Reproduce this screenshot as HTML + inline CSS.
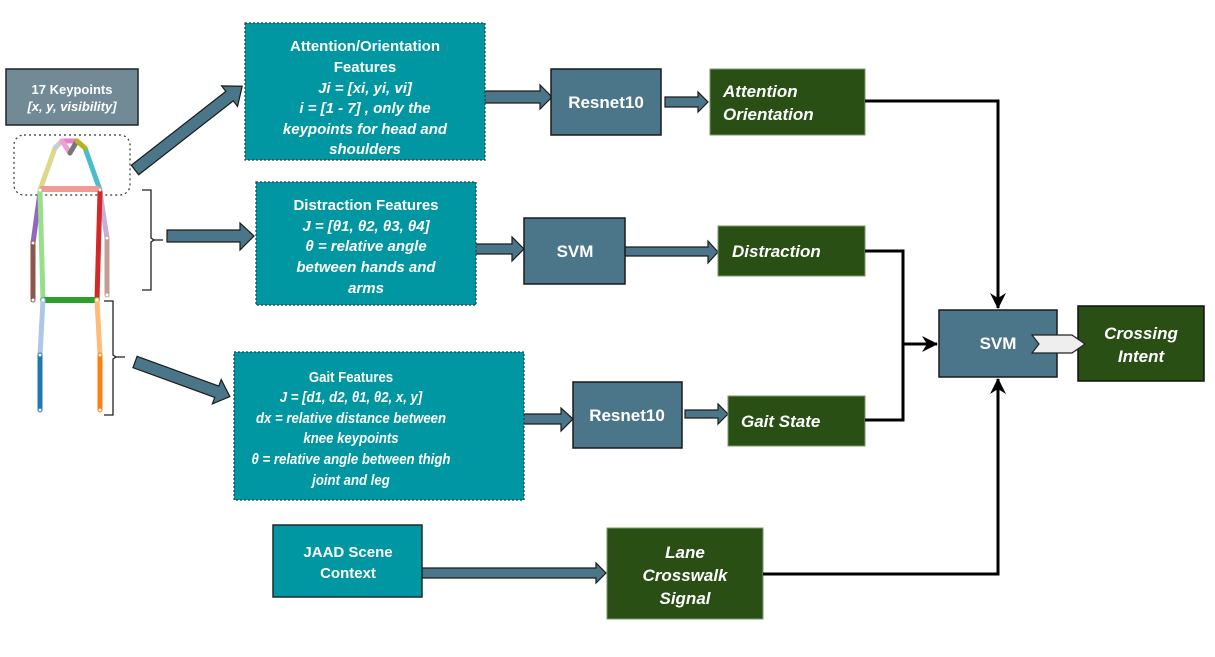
<!DOCTYPE html>
<html><head><meta charset="utf-8"><style>
html,body{margin:0;padding:0;background:#fff;}
svg{display:block;font-family:"Liberation Sans",Arial,sans-serif;}
.w{fill:#fff;font-weight:bold;}
</style></head><body>
<svg width="1215" height="657" viewBox="0 0 1215 657" xmlns="http://www.w3.org/2000/svg">
<defs>
<marker id="ah" markerWidth="18" markerHeight="18" refX="15" refY="8" orient="auto" markerUnits="userSpaceOnUse">
<path d="M0,0 L16,8 L0,16 L5,8 Z" fill="#000"/></marker>
</defs>

<!-- keypoints box -->
<rect x="6" y="69" width="132" height="56" fill="#718a96" stroke="#222" stroke-width="1.5"/>
<text x="72" y="94" class="w" font-size="13" text-anchor="middle">17 Keypoints</text>
<text x="72" y="111" class="w" font-size="13" font-style="italic" text-anchor="middle">[x, y, visibility]</text>
<rect x="14" y="135" width="116" height="60" rx="10" fill="none" stroke="#333" stroke-width="1.2" stroke-dasharray="2,3"/>

<!-- skeleton -->
<g stroke-linecap="round" stroke-width="5" fill="none">
<line x1="40" y1="190" x2="55" y2="148" stroke="#dada8a"/>
<line x1="100" y1="190" x2="85" y2="148" stroke="#4bbccc"/>
<line x1="55" y1="148" x2="62" y2="141" stroke="#ccc"/>
<line x1="62" y1="141" x2="77" y2="141" stroke="#e87fc8"/>
<line x1="62" y1="141" x2="70" y2="153" stroke="#f0a0d0"/>
<line x1="77" y1="141" x2="70" y2="153" stroke="#777"/>
<line x1="77" y1="141" x2="85" y2="148" stroke="#b5b520"/>
<line x1="42" y1="189" x2="98" y2="189" stroke="#f29a94" stroke-width="6"/>
<line x1="40" y1="192" x2="33" y2="243" stroke="#9467bd"/>
<line x1="33" y1="243" x2="33" y2="300" stroke="#8c564b"/>
<line x1="100" y1="192" x2="107" y2="238" stroke="#c5b0d5"/>
<line x1="107" y1="238" x2="107" y2="295" stroke="#c49c94"/>
<line x1="40" y1="192" x2="43" y2="300" stroke="#98df8a"/>
<line x1="100" y1="192" x2="97" y2="300" stroke="#d62728"/>
<line x1="43" y1="300" x2="97" y2="300" stroke="#2ca02c" stroke-width="6"/>
<line x1="43" y1="300" x2="40" y2="355" stroke="#aec7e8"/>
<line x1="40" y1="355" x2="40" y2="410" stroke="#1f77b4"/>
<line x1="97" y1="300" x2="100" y2="355" stroke="#ffbb78"/>
<line x1="100" y1="355" x2="100" y2="410" stroke="#ff7f0e"/>
</g>
<g fill="#fff">
<circle cx="40" cy="190" r="1.5"/><circle cx="100" cy="190" r="1.5"/><circle cx="33" cy="243" r="1.5"/><circle cx="107" cy="238" r="1.5"/>
<circle cx="33" cy="300" r="1.5"/><circle cx="107" cy="295" r="1.5"/><circle cx="43" cy="300" r="1.5"/><circle cx="97" cy="300" r="1.5"/>
<circle cx="40" cy="355" r="1.5"/><circle cx="100" cy="355" r="1.5"/><circle cx="40" cy="410" r="1.5"/><circle cx="100" cy="410" r="1.5"/>
</g>

<!-- brackets -->
<path d="M142,190 h9 v48 l3,2 l-3,2 v48 h-9" fill="none" stroke="#222" stroke-width="1.3"/>
<line x1="154" y1="240" x2="163" y2="240" stroke="#222" stroke-width="1.3"/>
<path d="M104,301 h9 v54 l3,2 l-3,2 v56 h-9" fill="none" stroke="#222" stroke-width="1.3"/>
<line x1="116" y1="357" x2="125" y2="357" stroke="#222" stroke-width="1.3"/>

<!-- fat arrows -->
<g fill="#4b7588" stroke="#1c1c1c" stroke-width="1.2">
<polygon points="0,-6 120,-6 120,-13 136,0 120,13 120,6 0,6" transform="translate(135,170) rotate(-38)"/>
<polygon points="167,230 240,230 240,223 254,236 240,250 240,242 167,242"/>
<polygon points="0,-6 87,-6 87,-13 101,0 87,13 87,6 0,6" transform="translate(135,362) rotate(20)"/>
<polygon points="482,91 540,91 540,85 552,97 540,109 540,103 482,103"/>
<polygon points="665,97 698,97 698,92 708,102 698,112 698,107 665,107"/>
<polygon points="471,244 512,244 512,237 524,249 512,261 512,254 471,254"/>
<polygon points="625,247 708,247 708,241 718,252 708,263 708,256 625,256"/>
<polygon points="462,414 561,414 561,408 573,419 561,431 561,424 462,424"/>
<polygon points="685,410 718,410 718,404 728,414 718,424 718,418 685,418"/>
<polygon points="422,568 596,568 596,563 606,573 596,583 596,578 422,578"/>
</g>

<!-- teal feature boxes -->
<g fill="#0097a3" stroke="#1e3f46" stroke-width="1.2" stroke-dasharray="2,2">
<rect x="245" y="23" width="240" height="137"/>
<rect x="256" y="182" width="220" height="123"/>
<rect x="234" y="352" width="290" height="148"/>
</g>
<g class="w" font-size="15" text-anchor="middle">
<text x="365" y="51">Attention/Orientation</text>
<text x="365" y="72">Features</text>
<text x="365" y="93" font-style="italic">Ji = [xi, yi, vi]</text>
<text x="365" y="113" font-style="italic">i = [1 - 7] , only the</text>
<text x="365" y="134" font-style="italic">keypoints for head and</text>
<text x="365" y="154" font-style="italic">shoulders</text>
<text x="366" y="210">Distraction Features</text>
<text x="366" y="231" font-style="italic">J = [θ1, θ2, θ3, θ4]</text>
<text x="366" y="251" font-style="italic">θ = relative angle</text>
<text x="366" y="272" font-style="italic">between hands and</text>
<text x="366" y="293" font-style="italic">arms</text>
</g>
<g class="w" font-size="15" text-anchor="middle" transform="translate(351,0) scale(0.88,1)">
<text x="0" y="382">Gait Features</text>
<text x="0" y="402" font-style="italic">J = [d1, d2, θ1, θ2, x, y]</text>
<text x="0" y="423" font-style="italic">dx = relative distance between</text>
<text x="0" y="443" font-style="italic">knee keypoints</text>
<text x="0" y="464" font-style="italic">θ = relative angle between thigh</text>
<text x="0" y="485" font-style="italic">joint and leg</text>
</g>

<!-- JAAD -->
<rect x="273" y="525" width="149" height="72" fill="#0097a3" stroke="#1a2a2e" stroke-width="1.5"/>
<text x="348" y="557" class="w" font-size="15" text-anchor="middle">JAAD Scene</text>
<text x="348" y="578" class="w" font-size="15" text-anchor="middle">Context</text>

<!-- model boxes -->
<g fill="#4b7589" stroke="#1a1a1a" stroke-width="1.5">
<rect x="551" y="69" width="110" height="66"/>
<rect x="524" y="218" width="101" height="66"/>
<rect x="573" y="382" width="109" height="66"/>
<rect x="939" y="310" width="118" height="67"/>
</g>
<g class="w" font-size="17" text-anchor="middle">
<text x="606" y="108">Resnet10</text>
<text x="575" y="257">SVM</text>
<text x="627" y="421">Resnet10</text>
<text x="998" y="349">SVM</text>
</g>

<!-- green outputs -->
<g fill="#294f15" stroke="#7a9a6a" stroke-width="1">
<rect x="710" y="69" width="155" height="66"/>
<rect x="718" y="226" width="147" height="50"/>
<rect x="728" y="396" width="137" height="50"/>
<rect x="607" y="528" width="156" height="91"/>
<rect x="1078" y="306" width="126" height="75" stroke="#111" stroke-width="1.5"/>
</g>
<g class="w" font-size="17" font-style="italic">
<text x="723" y="97">Attention</text>
<text x="723" y="120">Orientation</text>
<text x="732" y="257">Distraction</text>
<text x="741" y="427">Gait State</text>
<text x="685" y="558" text-anchor="middle">Lane</text>
<text x="685" y="581" text-anchor="middle">Crosswalk</text>
<text x="685" y="604" text-anchor="middle">Signal</text>
<text x="1141" y="339" text-anchor="middle">Crossing</text>
<text x="1141" y="362" text-anchor="middle">Intent</text>
</g>

<!-- chevron SVM -> Crossing -->
<polygon points="1032,335 1072,335 1085,344 1072,353 1032,353 1039,344" fill="#eeeeee" stroke="#222" stroke-width="1.2"/>

<!-- connectors -->
<g fill="none" stroke="#000" stroke-width="3">
<polyline points="865,101 998,101 998,308" marker-end="url(#ah)"/>
<polyline points="865,251 903,251 903,420 865,420"/>
<line x1="903" y1="344" x2="937" y2="344" marker-end="url(#ah)"/>
<polyline points="763,574 998,574 998,379" marker-end="url(#ah)"/>
</g>
</svg>
</body></html>
